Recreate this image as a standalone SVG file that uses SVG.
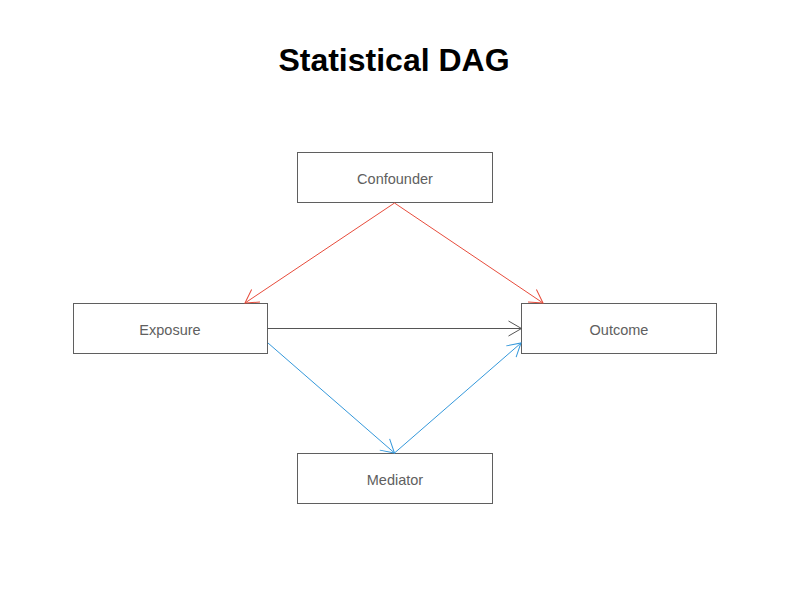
<svg xmlns="http://www.w3.org/2000/svg" width="800" height="600" viewBox="0 0 800 600">
<style>
.box{fill:#ffffff;stroke:#5f5f5f;stroke-width:1}
.lbl{font-family:"Liberation Sans",Arial,sans-serif;font-size:14.5px;fill:#606060;text-anchor:middle}
.title{font-family:"Liberation Sans",Arial,sans-serif;font-size:32px;font-weight:bold;fill:#000000;text-anchor:middle}
.edge{fill:none;stroke-width:1}
</style>
<defs>
<marker id="aRed" markerUnits="userSpaceOnUse" markerWidth="20" markerHeight="20" refX="0" refY="0" orient="auto" overflow="visible">
<path d="M-13,-7.5 L0,0 L-13,7.5" fill="none" stroke="#E74C3C" stroke-width="1"/>
</marker>
<marker id="aGray" markerUnits="userSpaceOnUse" markerWidth="20" markerHeight="20" refX="0" refY="0" orient="auto" overflow="visible">
<path d="M-13,-7.5 L0,0 L-13,7.5" fill="none" stroke="#555555" stroke-width="1"/>
</marker>
<marker id="aBlue" markerUnits="userSpaceOnUse" markerWidth="20" markerHeight="20" refX="0" refY="0" orient="auto" overflow="visible">
<path d="M-13,-7.5 L0,0 L-13,7.5" fill="none" stroke="#3498DB" stroke-width="1"/>
</marker>
</defs>
<rect width="800" height="600" fill="#ffffff"/>
<text class="title" x="394" y="71">Statistical DAG</text>
<g id="nodes">
<g id="confounder"><rect class="box" x="297.5" y="152.5" width="195" height="50"/><text class="lbl" x="395" y="183.5">Confounder</text></g>
<g id="exposure"><rect class="box" x="73.5" y="303.5" width="194" height="50"/><text class="lbl" x="170" y="334.5">Exposure</text></g>
<g id="outcome"><rect class="box" x="521.5" y="303.5" width="195" height="50"/><text class="lbl" x="619" y="334.5">Outcome</text></g>
<g id="mediator"><rect class="box" x="297.5" y="453.5" width="195" height="50"/><text class="lbl" x="395" y="484.5">Mediator</text></g>
</g>
<g id="connectors">
<line class="edge" x1="394.5" y1="203" x2="245" y2="303" stroke="#E74C3C" marker-end="url(#aRed)"/>
<line class="edge" x1="394.5" y1="203" x2="543" y2="303" stroke="#E74C3C" marker-end="url(#aRed)"/>
<line class="edge" x1="267.5" y1="328.5" x2="521.5" y2="328.5" stroke="#555555" marker-end="url(#aGray)"/>
<line class="edge" x1="268" y1="343" x2="394.5" y2="453" stroke="#3498DB" marker-end="url(#aBlue)"/>
<line class="edge" x1="394.5" y1="453" x2="521" y2="343" stroke="#3498DB" marker-end="url(#aBlue)"/>
</g>
</svg>
